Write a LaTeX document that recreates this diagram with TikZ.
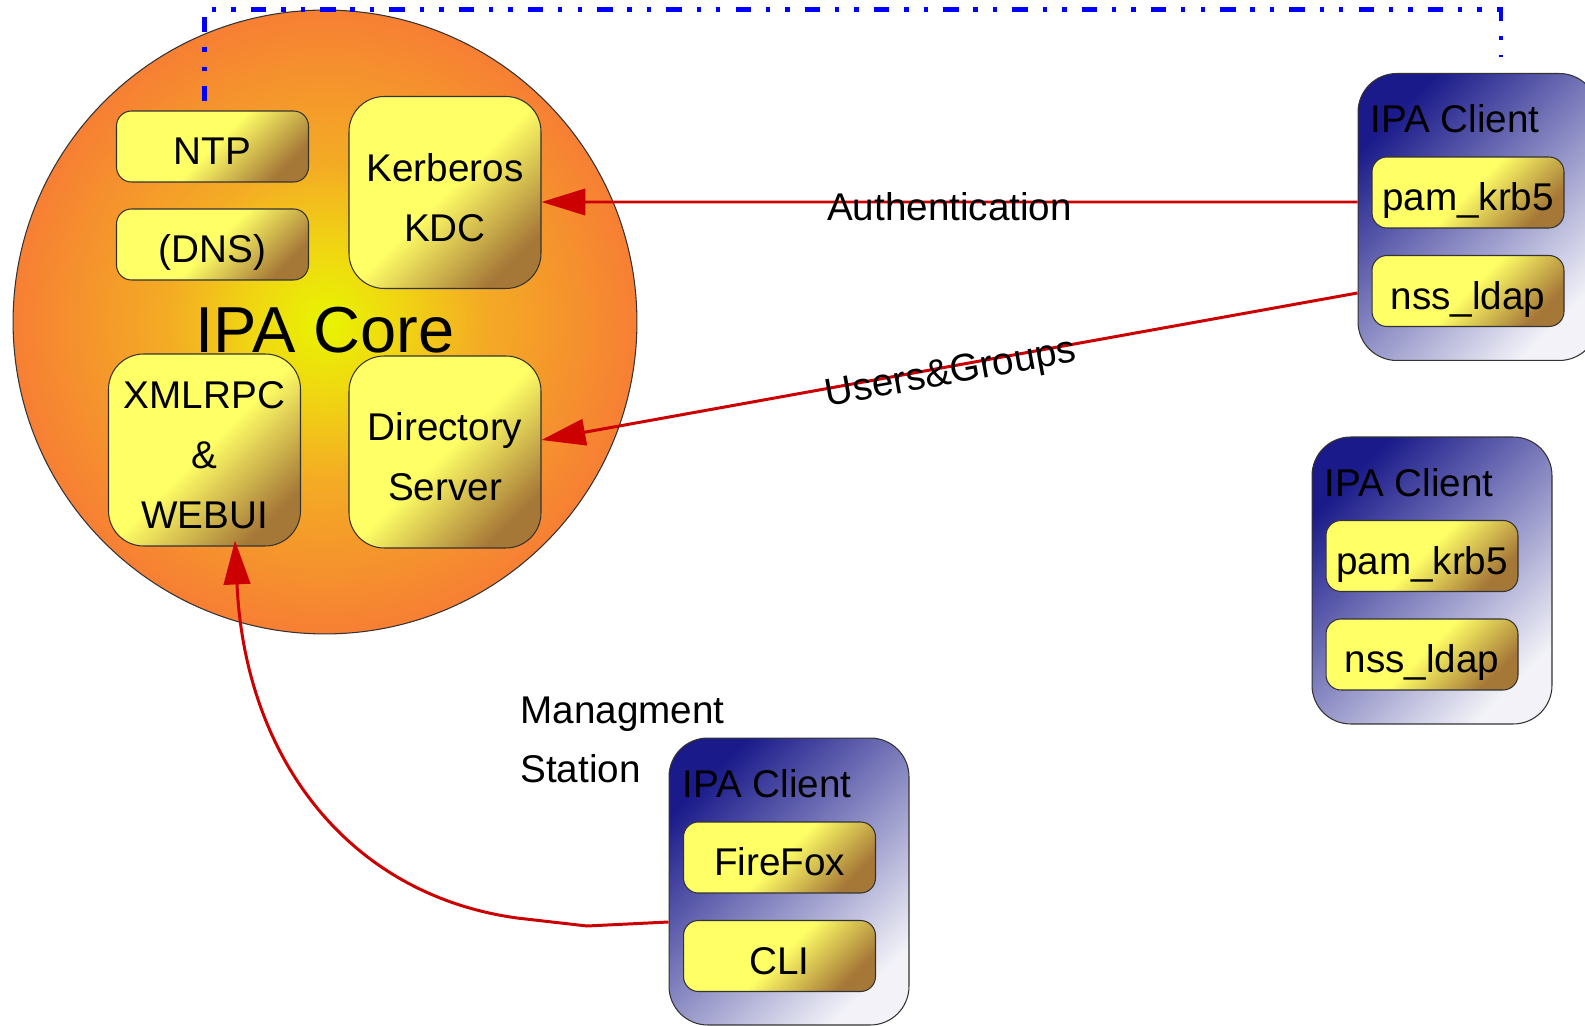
\documentclass[tikz,border=0pt]{standalone}
\usepackage{fontspec}
\setmainfont{Liberation Sans}
\usetikzlibrary{arrows.meta, positioning, calc}

\definecolor{boxyellow}{HTML}{FFFF66}
\definecolor{boxbrown}{HTML}{A67838}
\definecolor{clientdark}{HTML}{1A1A8A}
\definecolor{clientlight}{HTML}{F2F2F8}
\definecolor{coreinner}{HTML}{E8F500}
\definecolor{corelight}{HTML}{F0D612}
\definecolor{coremid}{HTML}{F4AC24}
\definecolor{coredeep}{HTML}{F5952C}
\definecolor{coreouter}{HTML}{F77F34}
\definecolor{arrowred}{HTML}{CC0000}
\definecolor{ntpblue}{HTML}{0000FF}

\pgfdeclarehorizontalshading{boxshine}{100bp}{color(0bp)=(boxyellow); color(50bp)=(boxyellow); color(75bp)=(boxbrown); color(100bp)=(boxbrown)}
\pgfdeclarehorizontalshading{clientshade}{100bp}{color(0bp)=(clientdark); color(25bp)=(clientdark); color(75bp)=(clientlight); color(100bp)=(clientlight)}
\pgfdeclareradialshading{coreglow}{\pgfpoint{0bp}{0bp}}{color(0bp)=(coreinner); color(6bp)=(corelight); color(12.5bp)=(coremid); color(19bp)=(coredeep); color(25bp)=(coreouter); color(50bp)=(coreouter)}

% pushes the first line of a tall box down a little
\newcommand{\boxstrut}{\rule{0pt}{21.5pt}}

\begin{document}
\begin{tikzpicture}[x=0.02cm, y=-0.02cm,
    every node/.style={font=\fontsize{22}{34}\selectfont},
    modbox/.style={draw=black!80, line width=0.6pt, rounded corners=8.5pt, shade, shading=boxshine, shading angle=-45,
      minimum width=3.84cm, minimum height=1.42cm, inner sep=0pt, text height=21pt, text depth=0pt},
    bigbox/.style={draw=black!80, line width=0.6pt, rounded corners=20pt, shade, shading=boxshine, shading angle=-45,
      minimum width=3.84cm, minimum height=3.84cm, inner sep=0pt, align=center},
    clientbox/.style={draw=black!80, line width=0.6pt, rounded corners=22pt, shade, shading=clientshade, shading angle=-45,
      minimum width=4.8cm, minimum height=5.74cm},
    clienttitle/.style={anchor=base west, inner sep=0pt},
    flow/.style={draw=arrowred, line width=1.7pt, -{Triangle[length=25pt, width=15pt]}},
    flowlabel/.style={anchor=base, inner sep=0pt, sloped},
    ntpline/.style={draw=ntpblue, line width=2.5pt, dash pattern=on 8.8pt off 8.4pt on 2.5pt off 8.6pt on 2.5pt off 8.6pt}]

  \useasboundingbox (0,0) rectangle (1585,1026);

  % IPA core
  \node[circle, draw=black!80, line width=0.6pt, shade, shading=coreglow, minimum size=12.48cm] (core) at (325,322) {};
  \node[font=\fontsize{37}{42}\selectfont, inner sep=0pt] (coretitle) at (325,330) {IPA Core};

  \node[modbox] (ntp) at (212.5,146.5) {NTP};
  \node[modbox] (dns) at (212.5,244.5) {(DNS)};
  \node[bigbox] (kdc) at (445,192.5) {\boxstrut Kerberos\\KDC};
  \node[bigbox] (xmlrpc) at (204.5,450) {\boxstrut XMLRPC\\\&\\WEBUI};
  \node[bigbox] (ds) at (445,452) {\boxstrut Directory\\Server};

  % IPA clients
  \node[clientbox] (client1) at (1478,217) {};
  \node[clienttitle] (client1title) at (1370,133) {IPA Client};
  \node[modbox] (pam1) at (1468,192.5) {pam\_krb5};
  \node[modbox] (nss1) at (1468,291) {nss\_ldap};

  \node[clientbox] (client2) at (1432,580.5) {};
  \node[clienttitle] (client2title) at (1324,497) {IPA Client};
  \node[modbox] (pam2) at (1422,556) {pam\_krb5};
  \node[modbox] (nss2) at (1422,654.5) {nss\_ldap};

  % time sync line
  \draw[ntpline] ($(ntp.north)+(-8,-9)$) -- ++(0,-92) -| ($(client1.north)+(23,-16)$);

  % management station
  \node[clientbox] (client3) at (789,881.5) {};
  \node[clienttitle] (client3title) at (682,797) {IPA Client};
  \node[modbox] (firefox) at (779.5,857.5) {FireFox};
  \node[modbox] (cli) at (779.5,956) {CLI};
  \node[align=left, anchor=west, inner sep=0pt] (mgmtlabel) at (520,740) {Managment\\Station};

  % flows
  \draw[flow] ($(client1.west)+(0,-15)$) -- node[flowlabel, yshift=-10.8pt] {Authentication} ($(kdc.east)+(0,9.5)$);
  \draw[flow] ($(client1.west)+(0,76)$) -- node[flowlabel, yshift=-10pt] {Users\&Groups} ($(ds.east)+(0,-12)$);
  \draw[flow] ($(client3.west)+(0,40.5)$) -- (587,926) -- (517,918)
    .. controls (350,895) and (245,760) .. ($(xmlrpc.south)+(30.5,-6)$);
\end{tikzpicture}
\end{document}
